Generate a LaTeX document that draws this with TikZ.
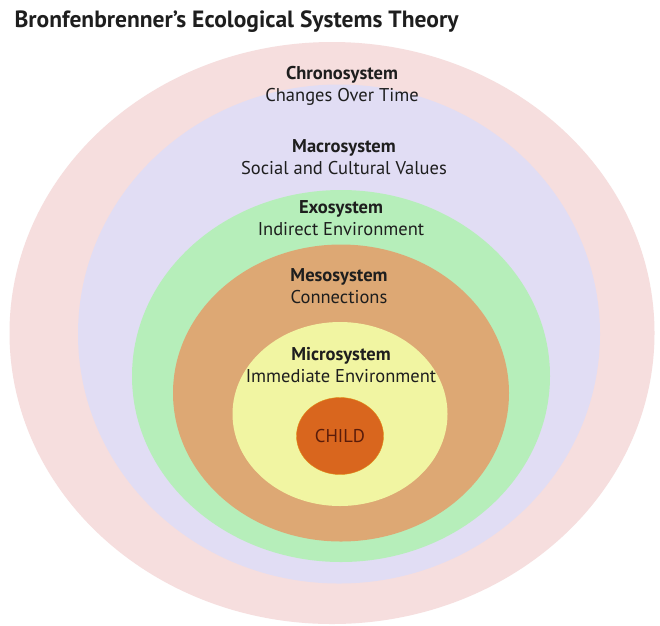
\documentclass[tikz,border=0pt]{standalone}
\usepackage{xcolor}
\usepackage{tikz}
\usepackage{fontspec}
\setmainfont{PT Sans}
\usetikzlibrary{shapes.geometric}
\definecolor{chronopink}{HTML}{F6DEDE}
\definecolor{macrolilac}{HTML}{E1DDF4}
\definecolor{exogreen}{HTML}{B6EEBA}
\definecolor{mesotan}{HTML}{DDA874}
\definecolor{microyellow}{HTML}{F1F5A2}
\definecolor{childorange}{HTML}{D9661E}
\definecolor{childtext}{HTML}{5A1C0A}
\definecolor{labelink}{HTML}{1E1E1E}

\begin{document}
\begin{tikzpicture}[x=1pt,y=-1pt,
  ring/.style={ellipse,inner sep=0pt,draw=none},
  lbl/.style={align=center,text=labelink,font=\fontsize{18.5}{22}\selectfont}]
\useasboundingbox (0,0) rectangle (660,625);
\fill[white] (0,0) rectangle (660,625);
% nested systems
\node[ring,fill=chronopink,minimum width=645pt,minimum height=582pt] (chrono) at (332,333) {};
\node[ring,fill=macrolilac,minimum width=522pt,minimum height=499pt] (macro) at (339,334) {};
\node[ring,fill=exogreen,minimum width=418pt,minimum height=372pt] (exo) at (341,376) {};
\node[ring,fill=mesotan,minimum width=336pt,minimum height=297pt] (meso) at (341,393) {};
\node[ring,fill=microyellow,minimum width=215pt,minimum height=184pt] (micro) at (340,414) {};
\node[ring,fill=childorange,draw=childorange!75!yellow,line width=0.4pt,minimum width=87pt,minimum height=77pt] (child) at (340,436) {};
% labels
\node[anchor=base west,text=labelink,font=\fontsize{23.5}{26}\selectfont\bfseries] (title) at (11,27) {Bronfenbrenner’s Ecological Systems Theory};
\node[lbl] (chronoT) at (342,86) {\textbf{Chronosystem}\\Changes Over Time};
\node[lbl] (macroT) at (344,157) {\textbf{Macrosystem}\\Social and Cultural Values};
\node[lbl] (exoT) at (341,218) {\textbf{Exosystem}\\Indirect Environment};
\node[lbl] (mesoT) at (339,286) {\textbf{Mesosystem}\\Connections};
\node[lbl] (microT) at (341,365) {\textbf{Microsystem}\\Immediate Environment};
\node[lbl,text=childtext] (childT) at (child) {CHILD};
\end{tikzpicture}
\end{document}
